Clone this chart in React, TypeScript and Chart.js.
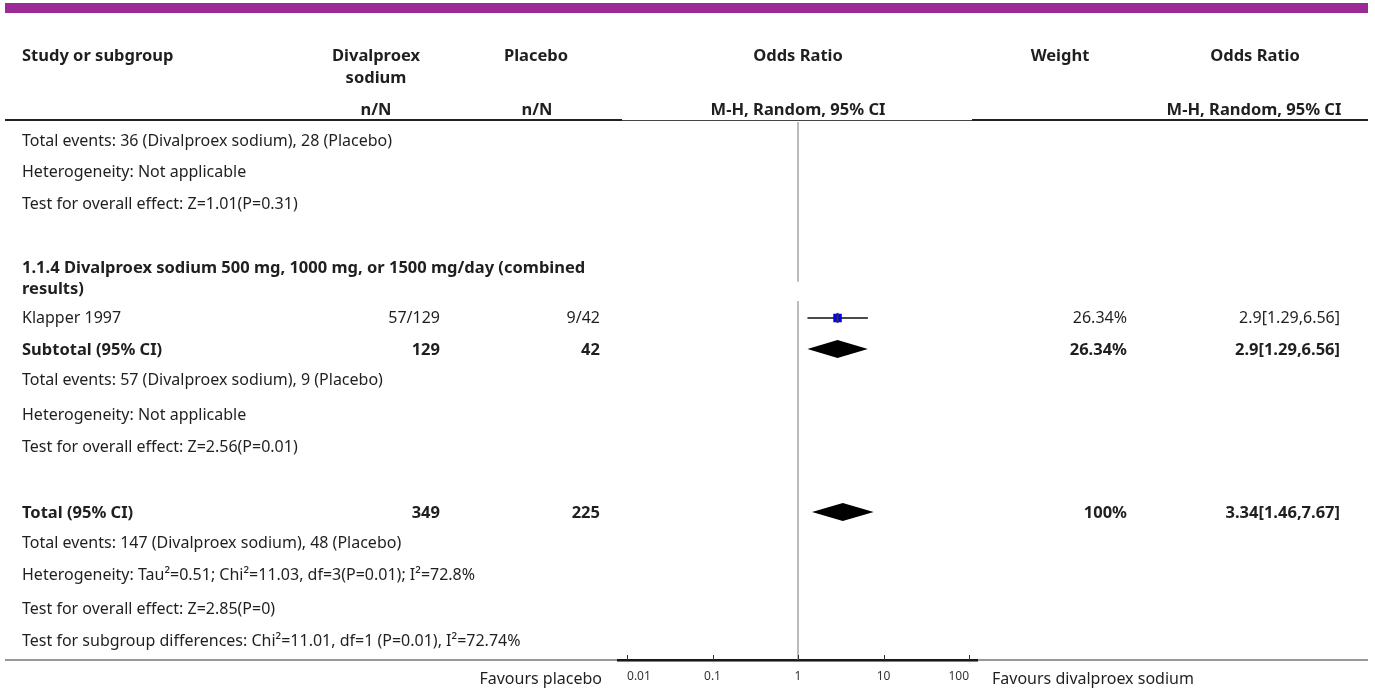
import React, { useEffect, useRef } from "react";
import { Chart, registerables } from "chart.js";

Chart.register(...registerables);

const FONT = "'Noto Sans', Lato, sans-serif";
const TEXT = "#1f1f1f";
const FS = 16;
const FS_BOLD = 16.5;
const DY = 1;

// Individual study
const studyNames = ["Klapper 1997"];
const studyTreatment = ["57/129"];
const studyPlacebo = ["9/42"];
const studyOR = [2.9];
const studyLower = [1.29];
const studyUpper = [6.56];
const studyWeight = ["26.34%"];

// Pooled estimates (subgroup 1.1.4 subtotal, overall total)
const summaryLabels = ["Subtotal (95% CI)", "Total (95% CI)"];
const summaryTreatN = [129, 349];
const summaryPlaceboN = [42, 225];
const summaryOR = [2.9, 3.34];
const summaryLower = [1.29, 1.46];
const summaryUpper = [6.56, 7.67];
const summaryWeight = ["26.34%", "100%"];

// Odds ratio axis
const tickValues = [0.01, 0.1, 1, 10, 100];
const tickLabels = ["0.01", "0.1", "1", "10", "100"];

// Footnote lines
const prevGroupNotes = [
  "Total events: 36 (Divalproex sodium), 28 (Placebo)",
  "Heterogeneity: Not applicable",
  "Test for overall effect: Z=1.01(P=0.31)",
];
const subgroupTitle = [
  "1.1.4 Divalproex sodium 500 mg, 1000 mg, or 1500 mg/day (combined",
  "results)",
];
const subgroupNotes = [
  "Total events: 57 (Divalproex sodium), 9 (Placebo)",
  "Heterogeneity: Not applicable",
  "Test for overall effect: Z=2.56(P=0.01)",
];
const totalNotes = [
  "Total events: 147 (Divalproex sodium), 48 (Placebo)",
  "Heterogeneity: Tau²=0.51; Chi²=11.03, df=3(P=0.01); I²=72.8%",
  "Test for overall effect: Z=2.85(P=0)",
  "Test for subgroup differences: Chi²=11.01, df=1 (P=0.01), I²=72.74%",
];

// Row layout in y-scale units (top = 0)
const prevNoteRows = [0.57, 1.55, 2.56];
const titleRows = [4.58, 5.24];
const studyRows = [6.19];
const summaryRows = [7.17, 12.32];
const subgroupNoteRows = [8.15, 9.23, 10.24];
const totalNoteRows = [13.3, 14.31, 15.36, 16.37];
const Y_MAX = 17;
const LINE_GAP = [5.05, 5.66];

// Column anchors
const COL_LEFT = 22;
const COL_TREAT = 440;
const COL_PLAC = 600;
const COL_WEIGHT = 1127;
const COL_OR = 1340;

const fmtCI = (m: number, l: number, u: number) => `${m}[${l},${u}]`;

const tablePlugin = {
  id: "forestTable",
  beforeDatasetsDraw(chart: any) {
    const { ctx } = chart;
    const xs = chart.scales.x;
    const ys = chart.scales.y;
    const area = chart.chartArea;
    ctx.save();

    // top band
    ctx.fillStyle = "#9c2a96";
    ctx.fillRect(5, 3, 1363, 10);

    // header text
    const bold = `bold ${FS_BOLD}px ${FONT}`;
    const reg = `${FS}px ${FONT}`;
    ctx.fillStyle = TEXT;
    ctx.textBaseline = "middle";
    ctx.font = bold;
    ctx.textAlign = "left";
    ctx.fillText("Study or subgroup", COL_LEFT, 56);
    ctx.textAlign = "center";
    ctx.fillText("Divalproex", 376, 56);
    ctx.fillText("sodium", 376, 78);
    ctx.fillText("n/N", 376, 110);
    ctx.fillText("Placebo", 536, 56);
    ctx.fillText("n/N", 537, 110);
    const oneX = xs.getPixelForValue(1);
    ctx.fillText("Odds Ratio", oneX, 56);
    ctx.fillText("M-H, Random, 95% CI", oneX, 110);
    ctx.fillText("Weight", 1060, 56);
    ctx.fillText("Odds Ratio", 1255, 56);
    ctx.fillText("M-H, Random, 95% CI", 1254, 110);

    // header rules
    ctx.strokeStyle = "#222";
    ctx.lineWidth = 2;
    ctx.beginPath();
    ctx.moveTo(5, 120);
    ctx.lineTo(622, 120);
    ctx.moveTo(972, 120);
    ctx.lineTo(1368, 120);
    ctx.stroke();
    ctx.lineWidth = 1;
    ctx.strokeStyle = "#444";
    ctx.beginPath();
    ctx.moveTo(622, 120.5);
    ctx.lineTo(972, 120.5);
    ctx.stroke();

    // line of no effect
    ctx.strokeStyle = "#a6a6a6";
    ctx.lineWidth = 1.5;
    ctx.beginPath();
    ctx.moveTo(oneX, area.top);
    ctx.lineTo(oneX, ys.getPixelForValue(LINE_GAP[0]));
    ctx.moveTo(oneX, ys.getPixelForValue(LINE_GAP[1]));
    ctx.lineTo(oneX, area.bottom);
    ctx.stroke();

    // body text
    ctx.fillStyle = TEXT;
    const left = (t: string, r: number, f: string) => {
      ctx.font = f;
      ctx.textAlign = "left";
      ctx.fillText(t, COL_LEFT, ys.getPixelForValue(r) + DY);
    };
    const right = (t: string, x: number, r: number, f: string) => {
      ctx.font = f;
      ctx.textAlign = "right";
      ctx.fillText(t, x, ys.getPixelForValue(r) + DY);
    };
    prevGroupNotes.forEach((t, i) => left(t, prevNoteRows[i], reg));
    subgroupTitle.forEach((t, i) => left(t, titleRows[i], bold));
    studyNames.forEach((n, i) => {
      const r = studyRows[i];
      left(n, r, reg);
      right(studyTreatment[i], COL_TREAT, r, reg);
      right(studyPlacebo[i], COL_PLAC, r, reg);
      right(studyWeight[i], COL_WEIGHT, r, reg);
      right(fmtCI(studyOR[i], studyLower[i], studyUpper[i]), COL_OR, r, reg);
    });
    summaryLabels.forEach((n, i) => {
      const r = summaryRows[i];
      left(n, r, bold);
      right(String(summaryTreatN[i]), COL_TREAT, r, bold);
      right(String(summaryPlaceboN[i]), COL_PLAC, r, bold);
      right(summaryWeight[i], COL_WEIGHT, r, bold);
      right(fmtCI(summaryOR[i], summaryLower[i], summaryUpper[i]), COL_OR, r, bold);
    });
    subgroupNotes.forEach((t, i) => left(t, subgroupNoteRows[i], reg));
    totalNotes.forEach((t, i) => left(t, totalNoteRows[i], reg));

    // bottom rule
    ctx.strokeStyle = "#333";
    ctx.lineWidth = 1.2;
    ctx.beginPath();
    ctx.moveTo(5, area.bottom);
    ctx.lineTo(1368, area.bottom);
    ctx.stroke();

    // tick marks (pointing into the plot)
    ctx.strokeStyle = "#333";
    ctx.lineWidth = 1;
    ctx.beginPath();
    xs.ticks.forEach((t: any) => {
      const px = Math.round(xs.getPixelForValue(t.value)) + 0.5;
      ctx.moveTo(px, area.bottom);
      ctx.lineTo(px, area.bottom - 5);
    });
    ctx.stroke();

    // favours labels
    ctx.font = reg;
    ctx.fillStyle = TEXT;
    ctx.textAlign = "right";
    ctx.fillText("Favours placebo", 602, 679);
    ctx.textAlign = "left";
    ctx.fillText("Favours divalproex sodium", 992, 679);

    // pooled diamonds
    ctx.fillStyle = "#000";
    summaryOR.forEach((m, i) => {
      const cy = ys.getPixelForValue(summaryRows[i]);
      ctx.beginPath();
      ctx.moveTo(xs.getPixelForValue(summaryLower[i]), cy);
      ctx.lineTo(xs.getPixelForValue(m), cy - 9);
      ctx.lineTo(xs.getPixelForValue(summaryUpper[i]), cy);
      ctx.lineTo(xs.getPixelForValue(m), cy + 9);
      ctx.closePath();
      ctx.fill();
    });
    ctx.restore();
  },
  afterDatasetsDraw(chart: any) {
    const { ctx } = chart;
    const xs = chart.scales.x;
    const ys = chart.scales.y;
    ctx.save();
    ctx.strokeStyle = "#333";
    ctx.lineWidth = 2;
    studyOR.forEach((m, i) => {
      const px = xs.getPixelForValue(m);
      const cy = ys.getPixelForValue(studyRows[i]);
      ctx.beginPath();
      ctx.moveTo(px, cy - 5);
      ctx.lineTo(px, cy + 5);
      ctx.stroke();
    });
    ctx.restore();
  },
};

export default function App() {
  const canvasRef = useRef<HTMLCanvasElement | null>(null);

  useEffect(() => {
    document.body.style.margin = "0";
    const canvas = canvasRef.current;
    if (!canvas) return;

    const ciLines = studyOR.map((_, i) => ({
      type: "line" as const,
      data: [
        { x: studyLower[i], y: studyRows[i] },
        { x: studyUpper[i], y: studyRows[i] },
      ],
      borderColor: "#4a4a4a",
      borderWidth: 2,
      pointRadius: 0,
      showLine: true,
      order: 2,
    }));

    const chart = new Chart(canvas, {
      type: "scatter",
      data: {
        datasets: [
          ...ciLines,
          {
            type: "scatter",
            data: studyOR.map((m, i) => ({ x: m, y: studyRows[i] })),
            pointStyle: "rect",
            pointRadius: 6,
            backgroundColor: "#0000ff",
            borderWidth: 0,
            order: 1,
          },
        ] as any,
      },
      options: {
        animation: false,
        responsive: false,
        events: [],
        layout: { padding: { left: 618.45, right: 397.45, top: 122, bottom: 0 } },
        plugins: {
          legend: { display: false },
          tooltip: { enabled: false },
        },
        scales: {
          x: {
            type: "logarithmic",
            min: 0.00794,
            max: 125.9,
            position: "bottom",
            afterBuildTicks: (s: any) => {
              s.ticks = tickValues.map((v) => ({ value: v }));
            },
            afterFit: (s: any) => {
              s.height = 31;
            },
            grid: { display: false, drawTicks: false },
            border: { display: true, color: "#000", width: 2.5 },
            ticks: {
              autoSkip: false,
              maxRotation: 0,
              align: "inner",
              padding: 9,
              color: "#333",
              font: { family: FONT, size: 12 },
              callback: (_v: any, i: number) => tickLabels[i],
            },
          },
          y: {
            type: "linear",
            min: 0,
            max: Y_MAX,
            reverse: true,
            display: false,
          },
        },
      },
      plugins: [tablePlugin],
    });

    return () => chart.destroy();
  }, []);

  return (
    <div style={{ width: 1375, height: 691, position: "relative" }}>
      <canvas ref={canvasRef} width={1375} height={691} />
    </div>
  );
}
